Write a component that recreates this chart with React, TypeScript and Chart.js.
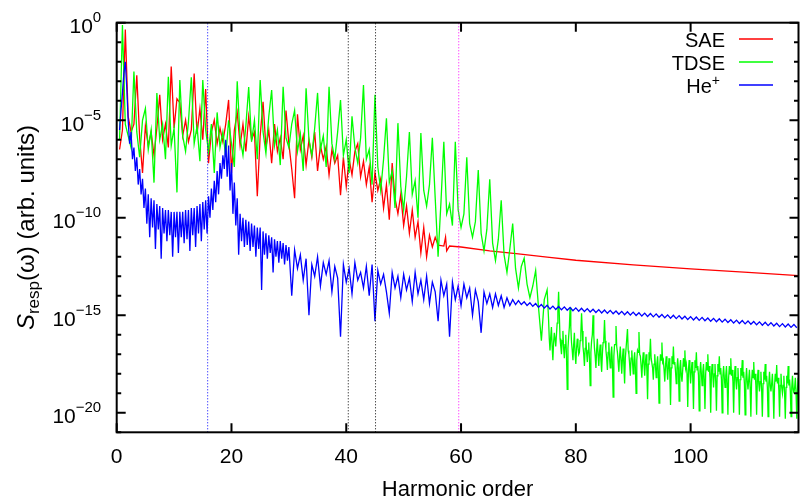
import { useEffect, useRef } from "react";
import { Chart, registerables } from "chart.js";

Chart.register(...registerables);

// ---------- axes ----------
const X_MIN = 0;
const X_MAX = 118.8;
const Y_MIN_EXP = -21;
const Y_MAX_EXP = 0;
const xTickValues = [0, 20, 40, 60, 80, 100];
const yLabelExps = [0, -5, -10, -15, -20];
const xTitle = "Harmonic order";

// ---------- legend ----------
const seriesLabels = ["SAE", "TDSE", "He^+"];
const seriesColors = ["#ff0000", "#00ff00", "#0000ff"];

// ---------- vertical dotted markers (harmonic order) ----------
const markerX = [15.85, 40.35, 45.1, 59.6];
const markerColors = ["#0000ff", "#000000", "#000000", "#ff00ff"];

// ---------- SAE (red), log10 values ----------
const redNoisyStart = 0.5;
const redNoisyStep = 0.5;
const redNoisyLog = [
  -6.5, -5.5, -0.35, -4.8, -5.6, -5.2, -2.7, -5.9, -7.7, -5.3,
  -6.3, -5.6, -6.8, -5.4, -3.7, -6.0, -5.2, -6.4, -2.25, -5.4,
  -3.9, -4.1, -5.8, -5.0, -6.1, -5.5, -2.6, -5.7, -4.4, -6.0,
  -3.4, -7.2, -5.6, -5.0, -6.2, -5.4, -6.1, -5.2, -3.96, -7.7,
  -5.5, -4.6, -6.3, -5.2, -6.6, -4.8, -6.0, -5.6, -8.9, -5.8,
  -4.05, -6.4, -5.5, -7.2, -5.2, -6.6, -5.9, -7.0, -4.5, -6.2,
  -7.5, -9.0, -4.7, -6.5, -5.8, -7.3, -6.0, -6.9, -5.6, -7.6,
  -6.3, -7.0, -6.35, -7.8, -6.5, -7.2, -6.8, -8.85, -6.9, -8.4,
  -7.0, -7.8, -6.6, -6.2, -7.9, -7.1, -8.3, -7.4, -9.2, -7.7,
  -8.6, -8.0, -9.5, -8.3, -10.1, -7.2, -9.0, -9.8, -8.8, -10.4,
  -9.4, -10.8, -9.6, -11.0, -10.2, -11.8, -10.5, -12.0, -10.9, -11.5,
  -11.0, -11.4,
];
const redTailX = [57.0, 57.3, 57.5, 58.0, 60, 65, 70, 75, 80, 90, 100, 110, 118.8];
const redTailLog = [-11.45, -11.0, -11.7, -11.45, -11.5, -11.7, -11.85, -12.02, -12.18, -12.42, -12.62, -12.8, -12.97];

// ---------- TDSE (green), log10 values ----------
const greenLowStart = 0.5;
const greenLowStep = 0.5;
const greenLowLog = [
  -6.0, -0.12, -5.2, -5.8, -6.4, -2.5, -5.6, -6.9, -5.0, -4.4,
  -6.5, -5.5, -8.2, -3.6, -6.0, -5.2, -7.0, -2.77, -6.3, -5.4,
  -8.7, -2.94, -5.8, -6.6, -5.1, -2.8, -6.2, -5.3, -7.1, -2.94,
  -5.5, -6.6, -5.2, -7.7, -4.6, -6.4, -5.6, -6.9, -5.0, -6.2,
  -7.4, -3.0, -5.9, -6.8, -5.3, -3.3, -6.1, -5.0, -7.0, -2.94,
  -5.6, -6.7, -4.8, -3.45, -6.3, -5.5, -7.3, -3.28, -5.9, -6.4,
  -5.2, -4.5, -6.6, -5.7, -7.6, -3.36, -6.0, -6.8, -5.4, -3.6,
  -6.5, -5.8, -7.4, -3.28, -6.2, -7.0, -5.6, -3.96, -6.8, -6.0,
  -7.7, -4.8, -6.4, -7.2, -5.9, -3.2, -7.0, -6.5, -8.3, -3.7,
  -7.4, -8.6, -7.0, -4.9, -8.2, -7.6, -9.5, -5.15, -8.4, -9.6,
  -7.9, -5.6, -8.8, -8.1, -10.0, -5.66, -8.6, -9.4, -8.3, -5.9,
  -9.0, -12.0, -9.2, -6.1, -9.8, -9.3, -10.4, -6.1, -9.6, -10.5,
  -9.8, -6.9, -10.3, -11.0, -10.2, -7.55, -10.8, -11.7, -10.6, -8.03,
  -11.3, -12.2, -11.1, -9.1, -11.9, -12.8, -11.6, -10.3, -12.6, -13.6,
  -12.5, -12.07, -13.4, -14.1, -13.5, -12.7, -14.6, -16.3, -14.2, -13.7,
];
const greenHighStart = 75.25;
const greenHighStep = 0.25;
const greenHighLog = [
  -15.2, -16.8, -15.6, -17.3, -15.9, -16.6, -15.4, -13.8, -16.2, -17.0,
  -15.8, -17.2, -16.0, -18.8, -16.1, -14.6, -16.4, -17.3, -15.9, -17.5,
  -16.2, -17.0, -16.3, -14.9, -16.6, -17.6, -16.1, -17.4, -16.4, -18.6,
  -16.3, -15.0, -16.7, -17.7, -16.2, -17.6, -16.5, -17.9, -16.4, -15.25,
  -16.8, -17.8, -16.4, -17.7, -16.6, -19.2, -16.5, -15.55, -16.9, -17.9,
  -16.6, -18.0, -16.7, -18.5, -16.7, -15.7, -17.0, -18.1, -16.8, -18.0,
  -16.9, -19.0, -16.8, -15.86, -17.1, -18.2, -16.9, -18.1, -17.0, -19.3,
  -16.9, -16.2, -17.2, -18.3, -17.0, -18.2, -17.1, -19.5, -17.0, -16.4,
  -17.3, -18.4, -17.1, -18.3, -17.2, -19.6, -17.1, -16.6, -17.4, -18.5,
  -17.2, -19.4, -17.3, -18.4, -17.2, -16.8, -17.5, -19.7, -17.3, -18.5,
  -17.4, -19.8, -17.3, -16.9, -17.6, -19.9, -17.4, -18.6, -17.5, -19.8,
  -17.4, -17.0, -17.6, -20.0, -17.5, -18.7, -17.5, -19.9, -17.5, -17.1,
  -17.7, -20.0, -17.6, -18.7, -17.6, -20.1, -17.6, -17.2, -17.8, -20.0,
  -17.6, -18.8, -17.7, -20.1, -17.7, -17.3, -17.9, -20.1, -17.7, -18.8,
  -17.8, -20.2, -17.8, -17.4, -18.0, -20.1, -17.8, -18.9, -17.9, -20.2,
  -17.9, -17.5, -18.1, -20.2, -17.9, -18.9, -18.0, -20.3, -18.0, -17.55,
  -18.2, -20.2, -18.0, -19.0, -18.1, -20.3, -18.1, -17.6, -18.3, -20.2,
  -18.1, -19.0, -18.2, -20.3, -18.2,
];
// in-between samples of the dense high-order plateau
const greenMidStart = 75.375;
const greenMidStep = 0.25;
const greenMidLog = [
  -16.2, -16.1, -16.6, -16.4, -16.2, -16.0, -14.8, -15.0, -16.6, -16.3,
  -16.7, -16.5, -17.1, -16.7, -15.6, -15.6, -16.8, -16.5, -17.0, -16.7,
  -16.6, -16.9, -15.9, -15.8, -17.0, -16.7, -16.9, -16.8, -17.2, -16.9,
  -16.0, -16.0, -17.1, -16.8, -17.0, -16.9, -17.3, -17.0, -16.2, -16.3,
  -17.2, -16.9, -17.2, -17.0, -17.5, -17.1, -16.5, -16.6, -17.4, -17.1,
  -17.3, -17.2, -17.6, -17.2, -16.7, -16.8, -17.5, -17.2, -17.4, -17.3,
  -17.7, -17.3, -16.9, -17.0, -17.6, -17.4, -17.5, -17.4, -17.8, -17.5,
  -17.1, -17.2, -17.7, -17.5, -17.6, -17.5, -17.9, -17.6, -17.3, -17.4,
  -17.8, -17.6, -17.7, -17.6, -18.0, -17.7, -17.5, -17.5, -17.9, -17.7,
  -17.8, -17.7, -18.1, -17.8, -17.6, -17.7, -18.0, -17.8, -17.9, -17.8,
  -18.2, -17.9, -17.7, -17.8, -18.1, -17.9, -18.0, -17.9, -18.3, -18.0,
  -17.8, -17.9, -18.2, -18.0, -18.1, -18.0, -18.4, -18.1, -17.9, -18.0,
  -18.3, -18.1, -18.2, -18.1, -18.5, -18.2, -18.0, -18.1, -18.4, -18.2,
  -18.3, -18.2, -18.6, -18.3, -18.1, -18.2, -18.5, -18.3, -18.4, -18.3,
  -18.7, -18.4, -18.2, -18.3, -18.6, -18.4, -18.5, -18.4, -18.8, -18.5,
  -18.3, -18.4, -18.7, -18.5, -18.6, -18.5, -18.9, -18.6, -18.4, -18.5,
  -18.8, -18.6, -18.7, -18.6, -19.0, -18.7, -18.5, -18.6, -18.9, -18.7,
  -18.8, -18.7, -19.0, -18.8,
];

// ---------- He+ (blue), log10 values ----------
const blueStartStart = 0.5;
const blueStartStep = 0.25;
const blueStartLog = [
  -5.5, -4.5, -3.6, -2.6, -2.0, -3.3, -5.0, -6.2, -5.6, -7.0,
  -6.4, -7.6, -6.9, -8.3, -7.5, -8.8, -8.0, -9.5, -8.5, -10.3,
  -8.8, -11.0, -9.0, -10.5, -9.1, -11.6, -9.3, -10.6, -9.4, -12.1,
  -9.5, -10.8, -9.6, -11.2, -9.6, -10.9, -9.7, -12.0, -9.7, -11.0,
  -9.7, -11.8, -9.7, -11.0, -9.7, -11.3, -9.6, -11.1, -9.6, -11.7,
  -9.5, -10.9, -9.5, -11.5, -9.4, -10.8, -9.3, -11.2, -9.2, -10.6,
  -9.1, -10.8, -8.9, -10.0, -8.5, -9.6, -8.1, -9.2, -7.6, -8.8,
  -7.2, -8.0, -6.8, -7.5, -6.0, -7.9, -6.3, -8.6, -7.2, -9.8,
  -8.2, -10.4, -9.0, -11.9, -9.8, -11.2, -10.0, -11.5, -10.1, -11.4,
  -10.2, -11.7, -10.3, -11.5, -10.4, -12.0, -10.5, -11.6, -10.5, -13.7,
  -10.7, -11.9, -10.8, -12.1, -10.9, -11.8, -11.0, -12.8, -11.1, -12.0,
  -11.2, -12.3, -11.2, -12.1, -11.3, -12.4, -11.4, -12.2, -11.5,
];
const blueMidStart = 30.5;
const blueMidStep = 0.5;
const blueMidLog = [
  -14.0, -11.65, -12.6, -11.9, -13.2, -12.1, -15.0, -12.4, -13.0, -12.0,
  -13.5, -12.3, -12.9, -12.2, -13.8, -12.5, -13.1, -16.1, -12.4, -13.3,
  -12.6, -13.9, -12.3, -13.2, -12.8, -13.6, -12.5, -14.0, -12.4, -15.3,
  -12.7, -13.4, -12.9, -13.8, -14.9, -12.8, -13.6, -13.0, -14.1, -12.9,
  -13.7, -13.1, -14.3, -12.8, -13.9, -13.2, -14.2, -13.0, -14.4, -13.3,
  -13.8, -15.3, -13.2, -14.0, -13.4, -16.1, -13.3, -14.2, -13.5, -14.5,
  -13.4, -14.1, -13.6, -15.0, -13.7, -14.3, -15.9, -13.8, -14.4, -13.9,
  -14.6, -13.9, -14.5, -14.0, -14.6, -14.1, -14.5, -14.2, -14.45, -14.25,
];
const blueTailStart = 70.5;
const blueTailStep = 0.5;
const blueTailLog = [
  -14.45, -14.31, -14.5, -14.36, -14.54, -14.4, -14.59, -14.45, -14.63, -14.49,
  -14.68, -14.53, -14.7, -14.55, -14.72, -14.57, -14.74, -14.6, -14.77, -14.62,
  -14.79, -14.64, -14.81, -14.66, -14.83, -14.69, -14.86, -14.71, -14.88, -14.73,
  -14.9, -14.75, -14.92, -14.78, -14.95, -14.8, -14.97, -14.82, -14.99, -14.84,
  -15.01, -14.87, -15.04, -14.89, -15.06, -14.91, -15.08, -14.93, -15.1, -14.96,
  -15.13, -14.98, -15.15, -15.0, -15.17, -15.02, -15.19, -15.05, -15.22, -15.07,
  -15.24, -15.09, -15.26, -15.11, -15.28, -15.14, -15.31, -15.16, -15.33, -15.18,
  -15.35, -15.2, -15.37, -15.23, -15.4, -15.25, -15.42, -15.27, -15.44, -15.29,
  -15.46, -15.32, -15.49, -15.34, -15.51, -15.36, -15.53, -15.38, -15.55, -15.41,
  -15.58, -15.43, -15.6, -15.45, -15.62, -15.47, -15.64,
];

// ---------- helpers ----------
type P = { x: number; y: number };
const onGrid = (start: number, step: number, logs: number[]): P[] =>
  logs.map((v, i) => ({ x: start + i * step, y: Math.pow(10, v) }));
const onPairs = (xs: number[], logs: number[]): P[] =>
  xs.map((x, i) => ({ x, y: Math.pow(10, logs[i]) }));

const FONT = '"Liberation Sans", Arial, Helvetica, sans-serif';

function drawSupLabel(ctx: CanvasRenderingContext2D, base: string, sup: string, rightX: number, baseY: number, baseSize: number, supSize: number, supRise: number) {
  ctx.font = `${supSize}px ${FONT}`;
  const supW = ctx.measureText(sup).width;
  ctx.font = `${baseSize}px ${FONT}`;
  const baseW = ctx.measureText(base).width;
  ctx.textAlign = "left";
  ctx.textBaseline = "alphabetic";
  ctx.fillText(base, rightX - supW - baseW, baseY);
  ctx.font = `${supSize}px ${FONT}`;
  ctx.fillText(sup, rightX - supW, baseY - supRise);
}

const framePlugin = {
  id: "gnuplotFrame",
  afterDatasetsDraw(chart: any) {
    const { ctx, chartArea: a, scales } = chart;
    const xs = scales.x;
    const ys = scales.y;
    ctx.save();
    ctx.strokeStyle = "#000";
    ctx.fillStyle = "#000";
    ctx.lineWidth = 2;
    ctx.setLineDash([]);
    ctx.beginPath();
    for (let e = Y_MIN_EXP; e <= Y_MAX_EXP; e++) {
      const py = ys.getPixelForValue(Math.pow(10, e));
      const len = e % 5 === 0 ? 9 : 4.5;
      ctx.moveTo(a.left, py);
      ctx.lineTo(a.left + len, py);
      ctx.moveTo(a.right, py);
      ctx.lineTo(a.right - len, py);
    }
    for (const v of xTickValues) {
      const px = xs.getPixelForValue(v);
      ctx.moveTo(px, a.bottom);
      ctx.lineTo(px, a.bottom - 9);
      ctx.moveTo(px, a.top);
      ctx.lineTo(px, a.top + 9);
    }
    ctx.stroke();
    ctx.strokeRect(a.left, a.top, a.right - a.left, a.bottom - a.top);

    // y tick labels
    for (const e of yLabelExps) {
      const py = ys.getPixelForValue(Math.pow(10, e));
      const sup = e === 0 ? "0" : "\u2212" + String(-e);
      drawSupLabel(ctx, "10", sup, a.left - 15.5, py + 10.5, 21, 15, 11);
    }
    // x tick labels
    ctx.font = `21px ${FONT}`;
    ctx.textAlign = "center";
    ctx.textBaseline = "alphabetic";
    for (const v of xTickValues) {
      const px = xs.getPixelForValue(v);
      ctx.fillText(String(v), px, a.bottom + 31);
    }
    // x title
    ctx.font = `22px ${FONT}`;
    ctx.fillText(xTitle, (a.left + a.right) / 2, 496);

    // y title: S_resp(ω) (arb. units)
    ctx.save();
    const cy = (a.top + a.bottom) / 2;
    ctx.translate(34, cy);
    ctx.rotate(-Math.PI / 2);
    const parts = [
      { t: "S", f: `italic 24px ${FONT}`, dy: 0 },
      { t: "resp", f: `17px ${FONT}`, dy: 5 },
      { t: "(\u03c9) (arb. units)", f: `24px ${FONT}`, dy: 0 },
    ];
    let total = 0;
    const widths: number[] = [];
    for (const p of parts) {
      ctx.font = p.f;
      const w = ctx.measureText(p.t).width;
      widths.push(w);
      total += w;
    }
    let cx = -total / 2;
    ctx.textAlign = "left";
    parts.forEach((p, i) => {
      ctx.font = p.f;
      ctx.fillText(p.t, cx, p.dy);
      cx += widths[i];
    });
    ctx.restore();

    // legend
    const rowY = [39, 62, 85];
    seriesLabels.forEach((lab, i) => {
      const y = rowY[i];
      ctx.fillStyle = "#000";
      if (lab.includes("^")) {
        const [b, s] = lab.split("^");
        drawSupLabel(ctx, b, s, 720, y + 7.5, 20, 14, 8);
      } else {
        ctx.font = `20px ${FONT}`;
        ctx.textAlign = "right";
        ctx.textBaseline = "alphabetic";
        ctx.fillText(lab, 725, y + 7.5);
      }
      ctx.strokeStyle = seriesColors[i];
      ctx.lineWidth = 1.3;
      ctx.beginPath();
      ctx.moveTo(739, y);
      ctx.lineTo(773, y);
      ctx.stroke();
    });
    ctx.restore();
  },
};

export default function App() {
  const ref = useRef<HTMLCanvasElement | null>(null);
  useEffect(() => {
    if (!ref.current) return;
    const red = [...onGrid(redNoisyStart, redNoisyStep, redNoisyLog), ...onPairs(redTailX, redTailLog)];
    const greenHigh = [
      ...onGrid(greenHighStart, greenHighStep, greenHighLog),
      ...onGrid(greenMidStart, greenMidStep, greenMidLog),
    ].sort((p, q) => p.x - q.x);
    const green = [...onGrid(greenLowStart, greenLowStep, greenLowLog), ...greenHigh];
    const blue = [
      ...onGrid(blueStartStart, blueStartStep, blueStartLog),
      ...onGrid(blueMidStart, blueMidStep, blueMidLog),
      ...onGrid(blueTailStart, blueTailStep, blueTailLog),
    ];
    const series = [red, green, blue];
    const datasets: any[] = series.map((d, i) => ({
      label: seriesLabels[i],
      data: d,
      borderColor: seriesColors[i],
      borderWidth: 1.3,
      pointRadius: 0,
      tension: 0,
      fill: false,
      order: 3 - i,
      clip: 0,
    }));
    markerX.forEach((mx, i) => {
      datasets.push({
        label: "marker" + i,
        data: [
          { x: mx, y: Math.pow(10, Y_MIN_EXP) },
          { x: mx, y: Math.pow(10, Y_MAX_EXP) },
        ],
        borderColor: markerColors[i],
        borderWidth: 1,
        borderDash: [1, 2],
        pointRadius: 0,
        order: 0,
        clip: 0,
      });
    });
    const chart = new Chart(ref.current, {
      type: "line",
      data: { datasets },
      options: {
        animation: false,
        responsive: false,
        devicePixelRatio: 1,
        parsing: false,
        normalized: true,
        layout: { padding: { left: 116.7, top: 22.7, right: 1.5, bottom: 67.7 } },
        plugins: { legend: { display: false }, tooltip: { enabled: false } },
        scales: {
          x: { type: "linear", min: X_MIN, max: X_MAX, display: false },
          y: { type: "logarithmic", min: Math.pow(10, Y_MIN_EXP), max: Math.pow(10, Y_MAX_EXP), display: false },
        },
      } as any,
      plugins: [framePlugin],
    });
    return () => chart.destroy();
  }, []);
  return (
    <div style={{ position: "fixed", left: 0, top: 0, width: 800, height: 500, background: "#fff" }}>
      <canvas ref={ref} width={800} height={500} style={{ display: "block" }} />
    </div>
  );
}
